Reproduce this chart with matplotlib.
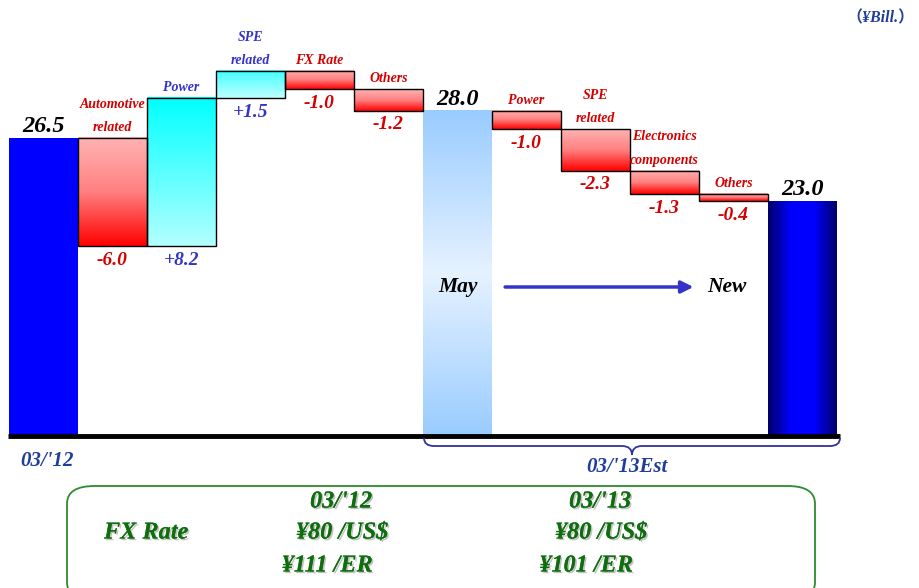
import numpy as np
import matplotlib
matplotlib.use("Agg")
import matplotlib.pyplot as plt
import matplotlib.patheffects as pe
from matplotlib.patches import Rectangle, FancyBboxPatch, FancyArrowPatch
from matplotlib.path import Path
from matplotlib.patches import PathPatch

plt.rcParams['font.family'] = ['Liberation Serif', 'Noto Sans CJK JP']

# data (\u00a5 Bill.)
start_label = "03/'12"
start_value = 26.5
left_cats = ["Automotive\nrelated", "Power", "SPE\nrelated", "FX Rate", "Others"]
left_deltas = [-6.0, 8.2, 1.5, -1.0, -1.2]
mid_value = 28.0
right_cats = ["Power", "SPE\nrelated", "Electronics\ncomponents", "Others"]
right_deltas = [-1.0, -2.3, -1.3, -0.4]
end_value = 23.0
end_label = "03/'13Est"

fx_years = ["03/'12", "03/'13"]
fx_usd = ["\u00a580 /US$", "\u00a580 /US$"]
fx_eur = ["\u00a5111 /ER", "\u00a5101 /ER"]

RED = "#D40000"
BLUE_TXT = "#3333CC"
NAVY_TXT = "#1F3D9C"
GREEN = "#0E6E0E"

fig = plt.figure(figsize=(9.2, 5.88), dpi=100)
W, H = 920, 588
ax = fig.add_axes([9 / W, (H - 436) / H, 828 / W, 436 / H])
ymin = 10.0
ppu = 18.06  # pixels per unit
ymax = ymin + 436 / ppu
ax.axis('off')


def hex2rgb(h):
    h = h.lstrip('#')
    return np.array([int(h[i:i + 2], 16) / 255 for i in (0, 2, 4)])


def grad_bar(x0, y0, y1, stops, horizontal=False, edge=True):
    # stops: colours from top to bottom (or left to right)
    n = 200
    cols = [hex2rgb(c) for c in stops]
    t = np.linspace(0, 1, n)
    pos = np.linspace(0, 1, len(cols))
    arr = np.stack([np.interp(t, pos, [c[k] for c in cols]) for k in range(3)], axis=-1)
    img = arr[None, :, :] if horizontal else arr[:, None, :]
    lo, hi = min(y0, y1), max(y0, y1)
    ax.imshow(img, extent=(x0, x0 + 1, lo, hi), aspect='auto', origin='upper',
              interpolation='bilinear', zorder=2)
    if edge:
        ax.add_patch(Rectangle((x0, lo), 1, hi - lo, fill=False, ec='black', lw=1.0, zorder=3))


def cat_label(x, y, s, color):
    ax.annotate(s, (x, y), xytext=(0, 5), textcoords='offset points', ha='center', va='baseline',
                fontsize=10, fontweight='bold', fontstyle='italic', color=color, linespacing=2.05)


def val_label(x, y, s, color):
    ax.annotate(s, (x, y), xytext=(0, -4), textcoords='offset points', ha='center', va='top',
                fontsize=14, fontweight='bold', fontstyle='italic', color=color)


def total_label(x, y, v):
    ax.annotate(f"{v:.1f}", (x, y), xytext=(0, 1), textcoords='offset points', ha='center',
                va='bottom', fontsize=17.5, fontweight='bold', fontstyle='italic', color='black')


# start bar
grad_bar(0, ymin, start_value, ["#0000FF", "#0000FF"], edge=False)
total_label(0.5, start_value, start_value)

# left deltas
level = start_value
for i, (c, d) in enumerate(zip(left_cats, left_deltas)):
    x0 = 1 + i
    new = level + d
    top, bot = max(level, new), min(level, new)
    if d < 0:
        grad_bar(x0, bot, top, ["#FFB3B3", "#FF8080", "#FF0000"])
        col = RED
    else:
        stops = ["#00FFFF", "#B3FFFF"] if d > 3 else ["#40FFFF", "#C0FFFF"]
        grad_bar(x0, bot, top, stops)
        col = BLUE_TXT
    cat_label(x0 + 0.5, top, c, col)
    val_label(x0 + 0.5, bot, f"{d:+.1f}", col)
    level = new

# mid bar (May)
xm = 1 + len(left_deltas)
grad_bar(xm, ymin, mid_value, ["#99CCFF", "#E6F2FF", "#99CCFF"], edge=False)
total_label(xm + 0.5, mid_value, mid_value)

# right deltas
level = mid_value
for i, (c, d) in enumerate(zip(right_cats, right_deltas)):
    x0 = xm + 1 + i
    new = level + d
    top, bot = max(level, new), min(level, new)
    grad_bar(x0, bot, top, ["#FFB3B3", "#FF8080", "#FF0000"])
    cat_label(x0 + 0.5, top, c, RED)
    val_label(x0 + 0.5, bot, f"{d:+.1f}", RED)
    level = new

# end bar
xe = xm + 1 + len(right_deltas)
grad_bar(xe, ymin, end_value, ["#000066", "#0000FF", "#0000FF", "#000066"], horizontal=True, edge=False)
total_label(xe + 0.5, end_value, end_value)

# May -> New
ymay = ymin + (436 - 287) / ppu
ax.text(xm + 0.5, ymay, "May", ha='center', va='center', fontsize=15.5, fontweight='bold',
        fontstyle='italic', color='black', zorder=5)
ax.text(xe - 0.6, ymay, "New", ha='center', va='center', fontsize=15.5, fontweight='bold',
        fontstyle='italic', color='black', zorder=5)
ax.add_patch(FancyArrowPatch((xm + 1.19, ymay), (xe - 1.08, ymay), arrowstyle='-|>',
                             mutation_scale=18, lw=2.5, color='#3333CC', zorder=5,
                             shrinkA=0, shrinkB=0))

ax.set_xlim(0, 12)
ax.set_ylim(ymin, ymax)

# baseline
ax.plot([-0.02, 12.05], [ymin, ymin], color='black', lw=3.5, clip_on=False, zorder=6,
        solid_capstyle='butt')


# curly brace under 03/'13Est, in pixel coords
def px(x, y):
    return (x / W, 1 - y / H)


bx0, bx1, bc = 424, 840, 632
ytop, ymid, ybot = 438, 446, 455
verts = [px(bx0, ytop), px(bx0, ymid), px(bx0 + 10, ymid),
         px(bc - 10, ymid), px(bc, ymid), px(bc, ybot),
         px(bc, ymid), px(bc + 10, ymid),
         px(bx1 - 10, ymid), px(bx1, ymid), px(bx1, ytop)]
codes = [Path.MOVETO, Path.CURVE3, Path.CURVE3, Path.LINETO, Path.CURVE3, Path.CURVE3,
         Path.CURVE3, Path.CURVE3, Path.LINETO, Path.CURVE3, Path.CURVE3]
fig.patches.append(PathPatch(Path(verts, codes), transform=fig.transFigure, fill=False,
                             ec='#333399', lw=1.3))

fig.text(47 / W, 1 - 461 / H, start_label, ha='center', va='center', fontsize=15,
         fontweight='bold', fontstyle='italic', color=NAVY_TXT)
fig.text(627 / W, 1 - 467 / H, end_label, ha='center', va='center', fontsize=15,
         fontweight='bold', fontstyle='italic', color=NAVY_TXT)

# unit
fig.text(880 / W, 1 - 18 / H, "\uff08\u00a5Bill.\uff09", ha='center', va='center', fontsize=11.5,
         fontweight='bold', fontstyle='italic', color=NAVY_TXT)

# FX rate box
box = FancyBboxPatch((67 / W, 1 - 600 / H), 748 / W, 114 / H,
                     boxstyle="round,pad=0,rounding_size=0.03", transform=fig.transFigure,
                     fill=False, ec='#2E8B2E', lw=1.3, clip_on=False)
fig.patches.append(box)

shadow = [pe.withSimplePatchShadow(offset=(1.2, -1.2), shadow_rgbFace='#999999', alpha=0.6),
          pe.Normal()]
tkw = dict(ha='center', va='center', fontsize=17.5, fontweight='bold', fontstyle='italic',
           color=GREEN, path_effects=shadow)
fig.text(146 / W, 1 - 533 / H, "FX Rate", **tkw)
for xc, yr, u, e in zip([341, 600], fx_years, fx_usd, fx_eur):
    fig.text(xc / W, 1 - 502 / H, yr, **tkw)
    fig.text((xc + 1) / W, 1 - 533 / H, u, **tkw)
    fig.text((xc - 14) / W, 1 - 566 / H, e, **tkw)

fig.savefig("out.png", dpi=100)
